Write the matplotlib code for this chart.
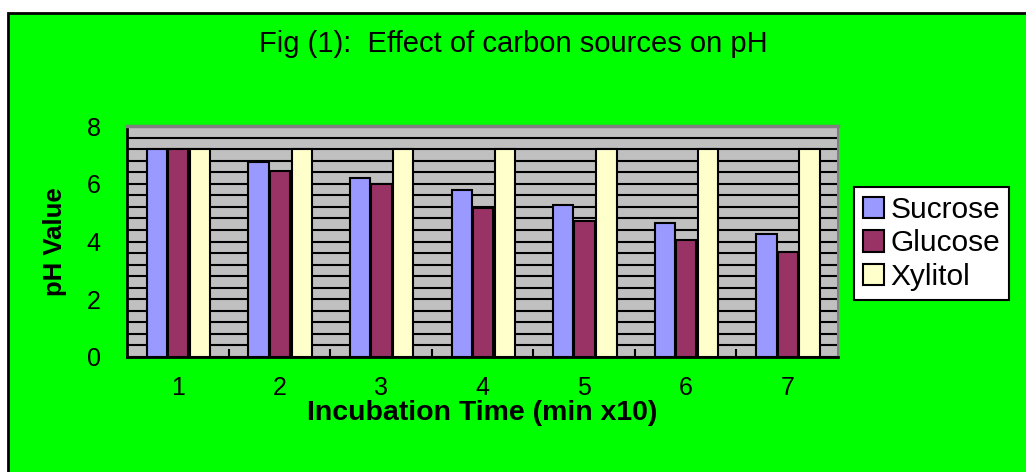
import numpy as np
import matplotlib
matplotlib.use('Agg')
import matplotlib.pyplot as plt
from matplotlib.patches import Rectangle

plt.rcParams['font.family'] = ['Liberation Sans', 'DejaVu Sans']

# data
times = [1, 2, 3, 4, 5, 6, 7]
sucrose = [7.2, 6.75, 6.2, 5.8, 5.25, 4.65, 4.25]
glucose = [7.2, 6.45, 6.0, 5.15, 4.7, 4.05, 3.65]
xylitol = [7.2, 7.2, 7.2, 7.2, 7.2, 7.2, 7.2]
series = ['Sucrose', 'Glucose', 'Xylitol']
colors = ['#9999FF', '#993366', '#FFFFCC']

W, H = 1026, 472
fig = plt.figure(figsize=(W / 100, H / 100), dpi=100)
fig.patch.set_facecolor('white')

# green chart area with black border (clipped at right/bottom)
bg = Rectangle((8 / W, -0.1), 1.2, (H - 13) / H + 0.1, transform=fig.transFigure,
               facecolor='#00FF00', edgecolor='black', linewidth=2, zorder=-1)
fig.add_artist(bg)

ax = fig.add_axes([127 / W, (H - 357) / H, (838 - 127) / W, (357 - 126) / H])
ax.set_facecolor('#C0C0C0')

x = np.array(times)
offsets = [-0.205, 0.005, 0.22]
for vals, off, c, name in zip([sucrose, glucose, xylitol], offsets, colors, series):
    ax.bar(x + off, vals, width=0.2, color=c, edgecolor='black', linewidth=1.5,
           label=name, zorder=3)

ax.set_xlim(0.5, 7.5)
ax.set_ylim(0, 8)
ax.set_yticks([0, 2, 4, 6, 8])
ax.set_yticks(np.arange(0.4, 7.9, 0.4), minor=True)
ax.yaxis.grid(True, which='both', color='black', linewidth=1.5, zorder=1)
ax.set_axisbelow(True)
ax.tick_params(axis='y', which='both', length=0, pad=19, labelsize=18)

ax.set_xticks(times)
ax.set_xticks(np.arange(1.5, 7.0, 1.0), minor=True)
ax.tick_params(axis='x', which='major', length=0, pad=14, labelsize=18)
ax.tick_params(axis='x', which='minor', direction='in', length=6, width=1.5,
               color='black')

for s in ['left', 'bottom']:
    ax.spines[s].set_linewidth(2)
    ax.spines[s].set_color('black')
ax.spines['top'].set_color('#808080')
ax.spines['top'].set_linewidth(2.5)
ax.spines['right'].set_color('#808080')
ax.spines['right'].set_linewidth(1.5)

ax.set_xlabel('Incubation Time (min x10)', fontsize=20.5, fontweight='bold', labelpad=0)
ax.set_ylabel('pH Value', fontsize=18.5, fontweight='bold', labelpad=14)

fig.text(513 / W, 1 - 44 / H, 'Fig (1):  Effect of carbon sources on pH',
         fontsize=21, ha='center', va='center')

leg = ax.legend(loc='upper left', bbox_to_anchor=(854 / W, 1 - 187 / H),
                bbox_transform=fig.transFigure, borderaxespad=0, fontsize=21.5,
                frameon=True, fancybox=False, handlelength=0.72, handleheight=0.72,
                handletextpad=0.2, labelspacing=0.18, borderpad=0.3)
leg.get_frame().set_edgecolor('black')
leg.get_frame().set_linewidth(1.5)
leg.get_frame().set_facecolor('white')
leg.get_frame().set_alpha(1)

fig.savefig('out.png', dpi=100, facecolor=fig.get_facecolor())
